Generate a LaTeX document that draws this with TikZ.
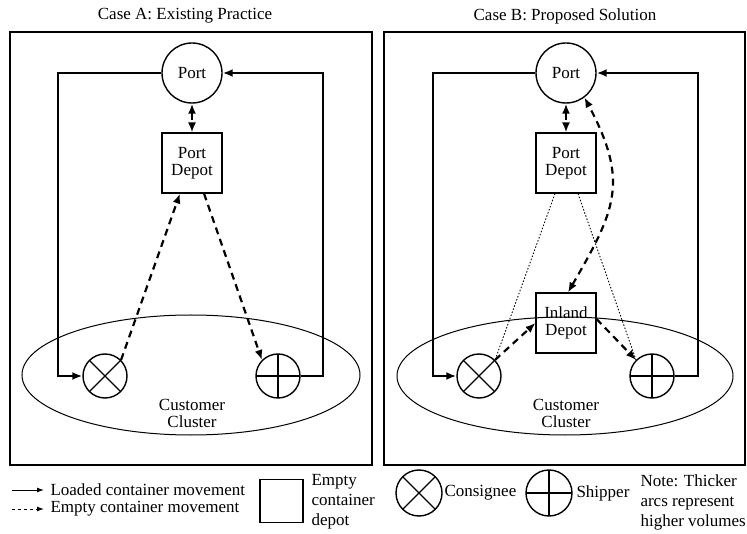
\documentclass[tikz,border=0pt]{standalone}
\usepackage{fontspec}
\setmainfont{Liberation Serif}
\usetikzlibrary{arrows.meta}
\begin{document}
\begin{tikzpicture}[x=1pt,y=-1pt,font=\fontsize{17}{17}\selectfont,
  frame/.style={draw,line width=1.4},
  port/.style={circle,draw,line width=1.4,minimum size=60,inner sep=0},
  depot/.style={draw,line width=1.1,minimum size=60,inner sep=0,align=center},
  cust/.style={circle,draw,line width=1.4,minimum size=44,inner sep=0},
  consignee/.style={cust,path picture={\draw[line width=1.2]
    (path picture bounding box.north west)--(path picture bounding box.south east)
    (path picture bounding box.north east)--(path picture bounding box.south west);}},
  shipper/.style={cust,path picture={\draw[line width=1.2]
    (path picture bounding box.north)--(path picture bounding box.south)
    (path picture bounding box.east)--(path picture bounding box.west);}},
  tip/.style={-{Latex[length=10pt,width=8pt]}},
  both/.style={{Latex[length=10pt,width=8pt]}-{Latex[length=10pt,width=8pt]}},
  loaded/.style={line width=2.2,tip},
  empty/.style={line width=2.2,dash pattern=on 7pt off 5pt,tip},
  faint/.style={line width=0.9,dash pattern=on 1.5pt off 1.8pt},
  key/.style={anchor=west,align=left,font=\fontsize{17}{20}\selectfont}]
\useasboundingbox (0,0) rectangle (747,534);
\pgfmathsetmacro{\cy}{376}
\draw[frame] (10,32) rectangle (372,465);
\draw[frame] (384,32) rectangle (745,465);
\node (titleA) at (185,16) {Case A: Existing Practice};
\node (titleB) at (565,16) {Case B: Proposed Solution};
\draw[line width=1] (191,375) ellipse[x radius=169,y radius=60];
\draw[line width=1] (565,376) ellipse[x radius=168,y radius=59];
\node[align=center] (clusterA) at (192,413) {Customer\\Cluster};
\node[align=center] (clusterB) at (566,413) {Customer\\Cluster};
\node[port] (portA) at (192,73) {Port};
\node[depot] (depA) at (192,163) {Port\\Depot};
\node[consignee] (consA) at (105,\cy) {};
\node[shipper] (shipA) at (278,\cy) {};
\coordinate (cA1) at (58,\cy);
\coordinate (cA2) at (323,73);
\draw[loaded] (portA.west) -| (cA1) -- (consA.west);
\draw[loaded] (shipA.east) -| (cA2) -- (portA.east);
\draw[empty,both] (portA.south) -- (depA.north);
\draw[empty] (consA.north east) -- ([xshift=-12]depA.south);
\draw[empty] ([xshift=12]depA.south) -- (shipA.north west);
\node[port] (portB) at (566,73) {Port};
\node[depot] (depB) at (566,163) {Port\\Depot};
\node[depot] (inland) at (566,323) {Inland\\Depot};
\node[consignee] (consB) at (479,\cy) {};
\node[shipper] (shipB) at (652,\cy) {};
\coordinate (cB1) at (433,\cy);
\coordinate (cB2) at (698,73);
\draw[loaded] (portB.west) -| (cB1) -- (consB.west);
\draw[loaded] (shipB.east) -| (cB2) -- (portB.east);
\draw[empty,both] (portB.south) -- (depB.north);
\draw[faint] ([xshift=-11]depB.south) -- (consB.north east);
\draw[faint] ([xshift=12]depB.south) -- (shipB.north west);
\draw[empty] (consB.north east) -- (inland.west);
\draw[empty] ([yshift=4]inland.east) -- (shipB.north west);
\draw[empty,both] ([xshift=2]inland.north) to[out=60,in=-62,looseness=1.25] (portB.-53);
\coordinate (k1a) at (12,490);
\coordinate (k1b) at (44,490);
\coordinate (k2a) at (12,509);
\coordinate (k2b) at (44,509);
\draw[line width=1,-{Latex[length=7pt,width=5pt]}] (k1a) -- (k1b);
\draw[line width=1,dash pattern=on 3pt off 3pt,-{Latex[length=7pt,width=5pt]}] (k2a) -- (k2b);
\node[key] (kload) at (47,490) {Loaded container movement};
\node[key] (kempty) at (47,509) {Empty container movement};
\node[depot,minimum size=43] (kdep) at (281.5,501) {};
\node[key] (kdeptxt) at (308,502) {Empty\\container\\depot};
\node[consignee,minimum size=46] (kcons) at (419,493) {};
\node[key] (kconstxt) at (441,493) {Consignee};
\node[shipper,minimum size=46] (kship) at (549,493) {};
\node[key] (kshiptxt) at (573,493) {Shipper};
\node[key] (knote) at (637,502) {Note: Thicker\\arcs represent\\higher volumes};
\end{tikzpicture}
\end{document}
